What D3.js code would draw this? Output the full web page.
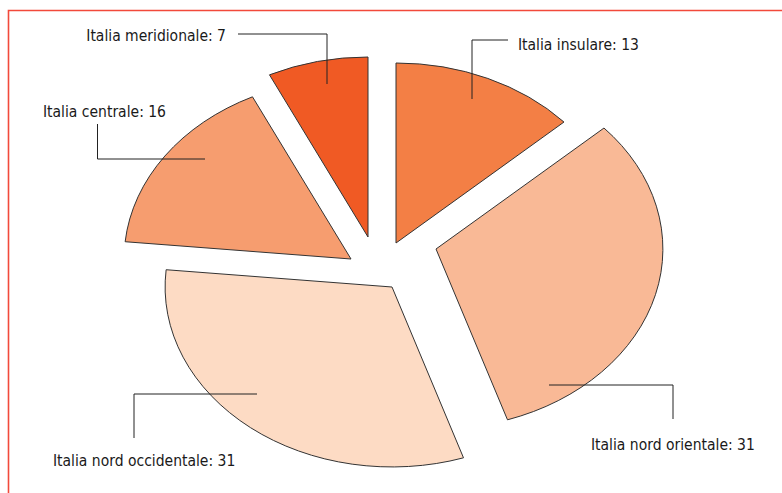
<!DOCTYPE html>
<html>
<head>
<meta charset="utf-8">
<script src="https://cdn.jsdelivr.net/npm/d3@7"></script>
<style>
  body { margin: 0; background: #fff; }
  svg text { font-family: "Liberation Sans Narrow", "DejaVu Sans Condensed", sans-serif; font-size: 15.5px; fill: #1a1a1a; }
</style>
</head>
<body>
<svg id="chart" width="782" height="493"></svg>
<script>
// data
var regions = ["Italia insulare", "Italia nord orientale", "Italia nord occidentale", "Italia centrale", "Italia meridionale"];
var values = [13, 31, 31, 16, 7];
var colors = ["#f37f45", "#f9b996", "#fddbc4", "#f69d6f", "#f05a24"];

// layout
var cx = 382, cy = 262, rx = 227, ry = 180;
// each slice is pulled out a bit (pixels)
var explode = [[14, -19], [54, -13], [10, 25], [-31, -3], [-14, -25]];
// label: text position, anchor, leader points
var labels = [
  { x: 518, y: 50, anchor: "start", line: [[508, 40], [472, 40], [472, 99]] },
  { x: 591, y: 450, anchor: "start", line: [[549, 385], [673, 385], [673, 419]] },
  { x: 53, y: 466, anchor: "start", line: [[134, 438], [134, 394], [257, 394]] },
  { x: 43, y: 117, anchor: "start", line: [[97.5, 124], [97.5, 159], [205, 159]] },
  { x: 226, y: 41, anchor: "end", line: [[238, 34], [327, 34], [327, 84]] }
];

var svg = d3.select("#chart");

// frame
svg.append("path")
    .attr("d", "M8.5,493 L8.5,10.5 L782,10.5")
    .attr("fill", "none")
    .attr("stroke", "#f2493b")
    .attr("stroke-width", 1.6);

var pie = d3.pie().sort(null).value(function (d) { return d; });
var arcs = pie(values);
var arc = d3.arc().innerRadius(0).outerRadius(1);

svg.append("g")
    .selectAll("path")
    .data(arcs)
    .enter()
    .append("path")
    .attr("transform", function (d, i) {
        return "translate(" + (cx + explode[i][0]) + "," + (cy + explode[i][1]) + ") scale(" + rx + "," + ry + ")";
    })
    .attr("d", arc)
    .attr("fill", function (d, i) { return colors[i]; })
    .attr("stroke", "#333")
    .attr("stroke-width", 1)
    .attr("stroke-linejoin", "miter")
    .attr("vector-effect", "non-scaling-stroke");

// leader lines
var line = d3.line();
svg.append("g")
    .selectAll("path")
    .data(labels)
    .enter()
    .append("path")
    .attr("d", function (d) { return line(d.line); })
    .attr("fill", "none")
    .attr("stroke", "#222")
    .attr("stroke-width", 1);

svg.append("g")
    .selectAll("text")
    .data(labels)
    .enter()
    .append("text")
    .attr("x", function (d) { return d.x; })
    .attr("y", function (d) { return d.y; })
    .attr("text-anchor", function (d) { return d.anchor; })
    .text(function (d, i) { return regions[i] + ": " + values[i]; });
</script>
</body>
</html>
